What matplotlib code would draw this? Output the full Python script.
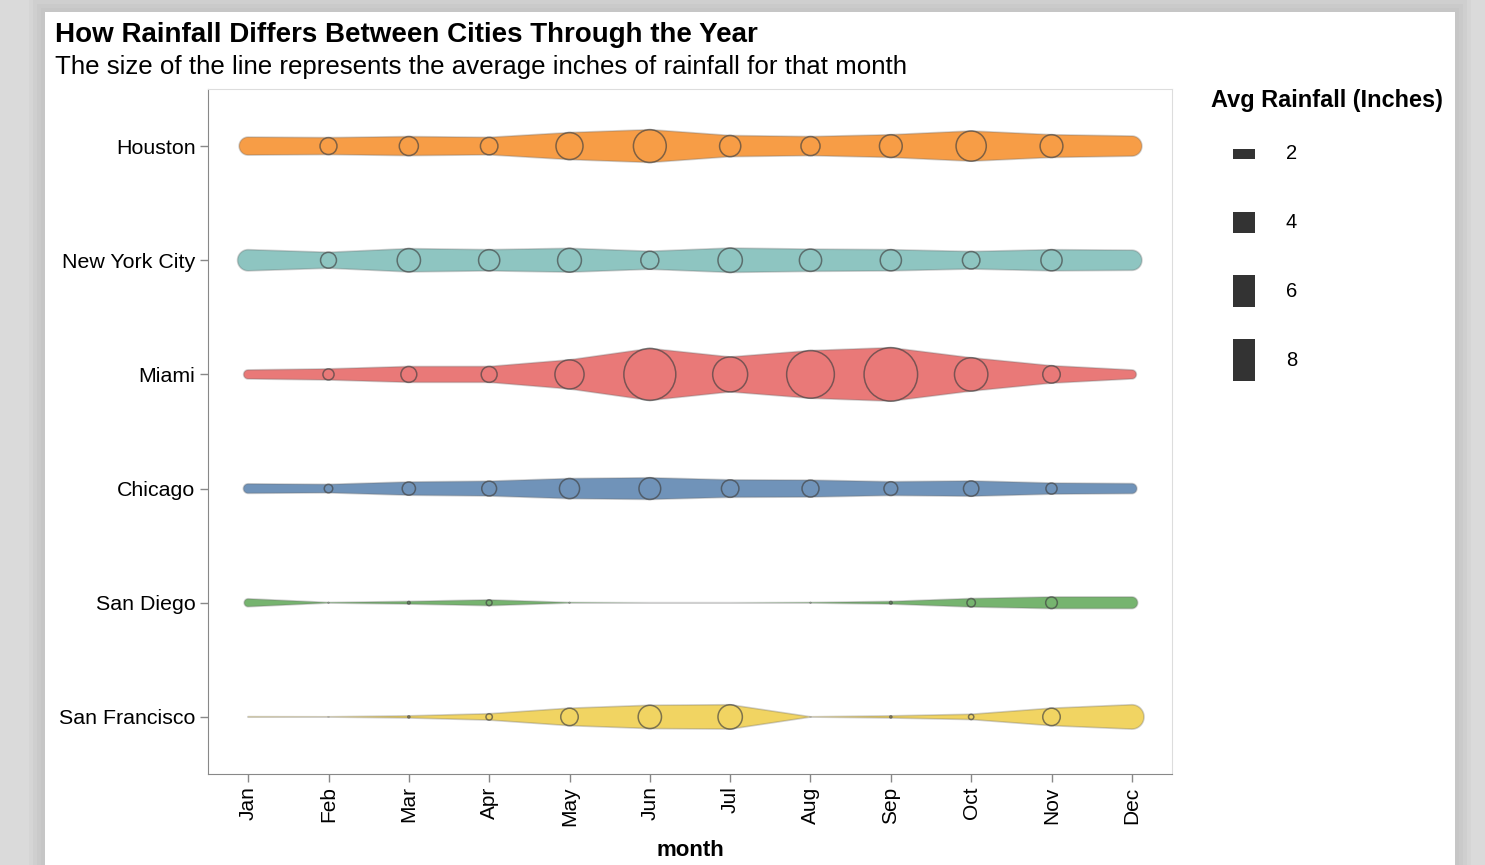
import numpy as np
import matplotlib.pyplot as plt
from matplotlib.patches import Polygon, Rectangle

plt.rcParams['font.family'] = ['Liberation Sans', 'DejaVu Sans']

# Data (avg rainfall in inches)
months = ['Jan', 'Feb', 'Mar', 'Apr', 'May', 'Jun', 'Jul', 'Aug', 'Sep', 'Oct', 'Nov', 'Dec']
cities = ['Houston', 'New York City', 'Miami', 'Chicago', 'San Diego', 'San Francisco']
houston = [3.4, 3.2, 3.6, 3.3, 5.1, 6.2, 4.0, 3.6, 4.3, 5.7, 4.3, 3.8]
new_york = [4.0, 3.0, 4.4, 4.0, 4.5, 3.4, 4.6, 4.2, 4.0, 3.3, 4.0, 3.8]
miami = [1.7, 2.1, 3.0, 3.0, 5.5, 9.8, 6.6, 9.0, 10.1, 6.3, 3.3, 1.7]
chicago = [1.8, 1.6, 2.5, 2.8, 3.8, 4.1, 3.3, 3.2, 2.6, 2.9, 2.1, 1.9]
san_diego = [1.5, 0.1, 0.5, 1.1, 0.1, 0.0, 0.0, 0.1, 0.5, 1.6, 2.2, 2.2]
san_francisco = [0.1, 0.05, 0.4, 1.2, 3.3, 4.4, 4.6, 0.05, 0.4, 1.0, 3.3, 4.6]
rain = [houston, new_york, miami, chicago, san_diego, san_francisco]
colors = ['#f58518', '#72b7b2', '#e45756', '#4c78a8', '#54a24b', '#eeca3b']
legend_values = [2, 4, 6, 8]

W, H = 1485, 865
PX_PER_INCH = 5.3  # trail width in pixels per inch of rain

fig = plt.figure(figsize=(W / 100, H / 100), dpi=100)
fig.patch.set_facecolor('#dadada')

# card with soft shadow
for pad, a in [(16, 0.2), (12, 0.3), (8, 0.4), (4, 0.5)]:
    fig.patches.append(Rectangle(((45 - pad) / W, 0), (1410 + 2 * pad) / W, (H - 12 + pad) / H,
                                 transform=fig.transFigure, facecolor='#c4c4c4', alpha=a, lw=0, zorder=-3))
fig.patches.append(Rectangle((45 / W, 0), 1410 / W, (H - 12) / H, transform=fig.transFigure,
                             facecolor='white', lw=0, zorder=-2))

left, right, top, bottom = 208, 1172, 89, 774
ax = fig.add_axes([left / W, 1 - bottom / H, (right - left) / W, (bottom - top) / H])
ax.set_facecolor('white')
ax.set_xlim(-0.5, len(months) - 0.5)
ax.set_ylim(len(cities) - 0.5, -0.5)
px_x = (right - left) / len(months)
px_y = (bottom - top) / len(cities)

x = np.arange(len(months))
for i, (vals, c) in enumerate(zip(rain, colors)):
    w = np.array(vals) * PX_PER_INCH
    hw = w / 2 / px_y
    # trail body + round caps
    t_r = np.linspace(np.pi / 2, -np.pi / 2, 30)
    t_l = np.linspace(-np.pi / 2, -3 * np.pi / 2, 30)
    pts = list(zip(x, i + hw))
    pts += list(zip(x[-1] + w[-1] / 2 * np.cos(t_r) / px_x, i + w[-1] / 2 * np.sin(t_r) / px_y))
    pts += list(zip(x[::-1], (i - hw)[::-1]))
    pts += list(zip(x[0] + w[0] / 2 * np.cos(t_l) / px_x, i + w[0] / 2 * np.sin(t_l) / px_y))
    ax.add_patch(Polygon(pts, closed=True, facecolor=c, alpha=0.8, edgecolor='none', zorder=2))
    ax.add_patch(Polygon(pts, closed=True, facecolor='none', edgecolor=(0.4, 0.4, 0.4, 0.3),
                         lw=1.2, zorder=3))
    # circles at inner months
    d_pt = w[1:-1] * 0.72
    ax.scatter(x[1:-1], [i] * (len(months) - 2), s=d_pt ** 2, facecolors='none',
               edgecolors=(0.25, 0.25, 0.25, 0.65), linewidths=1.1, zorder=4)

ax.set_xticks(x)
ax.set_xticklabels(months, rotation=90, fontsize=15)
ax.set_yticks(range(len(cities)))
ax.set_yticklabels(cities, fontsize=15.4)
ax.tick_params(length=6, width=1, color='#888888', pad=3)
for s in ['left', 'bottom']:
    ax.spines[s].set_color('#888888')
for s in ['top', 'right']:
    ax.spines[s].set_color('#dddddd')
ax.set_xlabel('month', fontsize=16, fontweight='bold', labelpad=10)

fig.text(55 / W, 1 - 35 / H, 'How Rainfall Differs Between Cities Through the Year',
         fontsize=20, fontweight='bold', va='center', ha='left')
fig.text(55 / W, 1 - 67 / H, 'The size of the line represents the average inches of rainfall for that month',
         fontsize=18.6, va='center', ha='left')

# size legend
fig.text(1211 / W, 1 - 100 / H, 'Avg Rainfall (Inches)', fontsize=16.9, fontweight='bold',
         va='center', ha='left')
lx0, lx1, ly0, ly1 = 1220, 1320, 120, 400
lax = fig.add_axes([lx0 / W, 1 - ly1 / H, (lx1 - lx0) / W, (ly1 - ly0) / H])
lax.set_xlim(lx0, lx1)
lax.set_ylim(ly1, ly0)
lax.axis('off')
ly = 154 + np.arange(len(legend_values)) * 68.7
lh = np.array(legend_values) * PX_PER_INCH
lax.bar([1244] * len(legend_values), lh, width=22, bottom=ly - lh / 2, color='#333333')
for yy, v in zip(ly, legend_values):
    lax.text(1286, yy, str(v), fontsize=14.5, va='center', ha='left')

fig.savefig('out.png', dpi=100)
